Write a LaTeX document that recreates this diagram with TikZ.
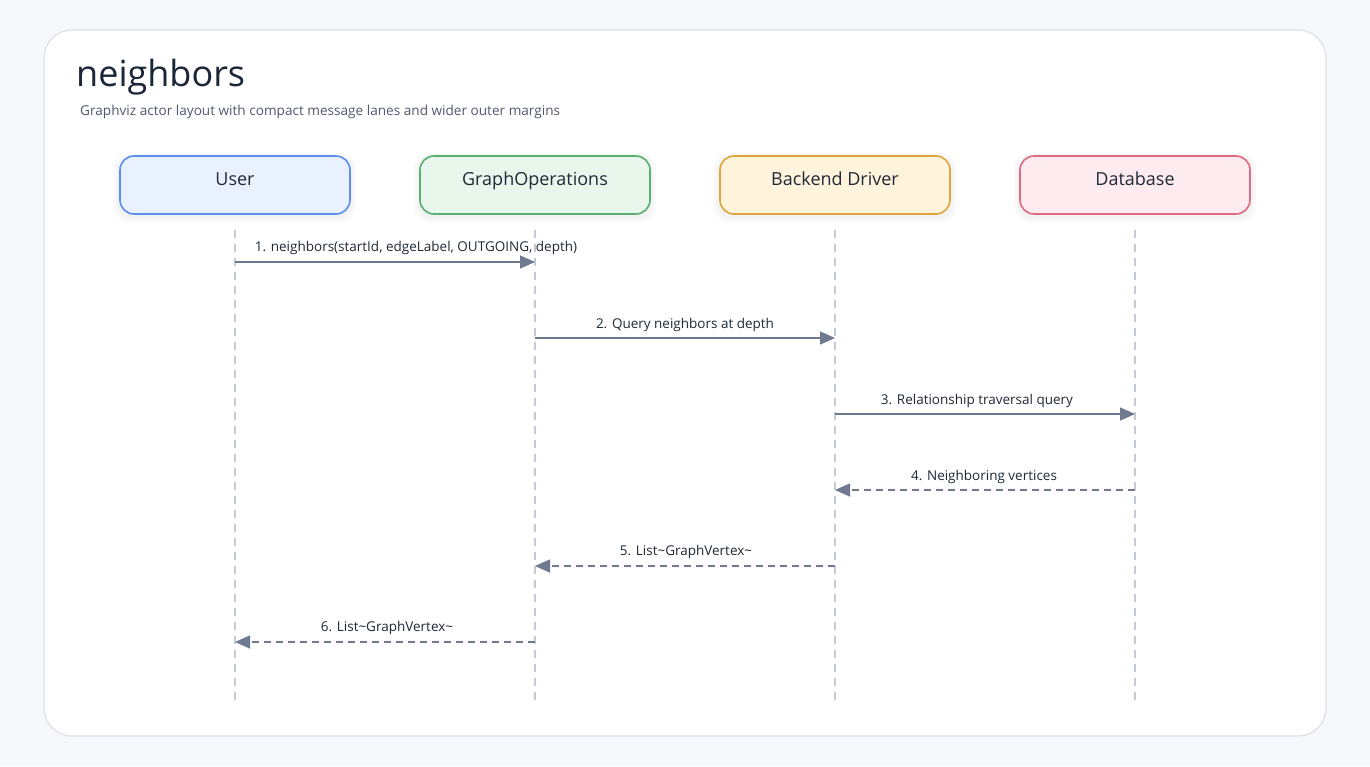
\documentclass[tikz,border=0pt]{standalone}
\usepackage{fontspec}
\setmainfont{Open Sans}
\usetikzlibrary{arrows.meta}
\definecolor{bgc}{HTML}{F7F8FB}
\definecolor{cardline}{HTML}{DCE0E8}
\definecolor{titlec}{HTML}{1B2638}
\definecolor{subc}{HTML}{4E5A6E}
\definecolor{lifec}{HTML}{C3C9D5}
\definecolor{msgc}{HTML}{6F7A90}
\definecolor{txtc}{HTML}{1F2937}
\definecolor{ufill}{HTML}{E8F1FD}\definecolor{uline}{HTML}{5B8DEF}
\definecolor{gfill}{HTML}{E8F6EC}\definecolor{gline}{HTML}{5AAE6E}
\definecolor{bfill}{HTML}{FFF3DC}\definecolor{bline}{HTML}{E0A43C}
\definecolor{dfill}{HTML}{FDEBEF}\definecolor{dline}{HTML}{E06A82}
\tikzset{
  actor/.style={draw=#1line, fill=#1fill, line width=1.6pt, rounded corners=14pt,
    minimum width=230pt, minimum height=58pt, inner sep=0pt,
    text height=10pt, text depth=10pt, text=txtc,
    font=\fontsize{18}{20}\selectfont},
  lifeline/.style={draw=lifec, line width=1.4pt, dash pattern=on 8pt off 6pt},
  msg/.style={draw=msgc, line width=1.5pt, -{Triangle[length=15pt,width=13pt]}},
  ret/.style={msg, dash pattern=on 7pt off 5pt},
  mlabel/.style={text=txtc, font=\fontsize{13.5}{15}\selectfont, inner sep=0pt},
}
\begin{document}
\begin{tikzpicture}[x=1pt,y=-1pt]
\useasboundingbox (0,0) rectangle (1370,766);
\fill[bgc] (0,0) rectangle (1370,766);
\draw[cardline, fill=white, line width=1.2pt, rounded corners=28pt] (44,30) rectangle (1326,736);
\node[anchor=base west, inner sep=0pt, text=titlec, font=\fontsize{36}{40}\selectfont] (title) at (76,86) {neighbors};
\node[anchor=base west, inner sep=0pt, text=subc, font=\fontsize{13.6}{15}\selectfont] (sub) at (80,115) {Graphviz actor layout with compact message lanes and wider outer margins};
% shadows
\foreach \cx in {235,535,835,1135}{
  \fill[black, opacity=0.025, rounded corners=16pt] (\cx-121,153) rectangle (\cx+121,222);
  \fill[black, opacity=0.025, rounded corners=15pt] (\cx-118,155) rectangle (\cx+118,219);
}
\node[actor=u] (user) at (235,185) {User};
\node[actor=g] (ops) at (535,185) {GraphOperations};
\node[actor=b] (drv) at (835,185) {Backend Driver};
\node[actor=d] (db) at (1135,185) {Database};
\foreach \n/\cx in {user/235,ops/535,drv/835,db/1135}{
  \coordinate (\n top) at (\cx,230);
  \coordinate (\n bot) at (\cx,700);
  \draw[lifeline] (\n top) -- (\n bot);
}
\foreach \n/\cx in {user/235,ops/535,drv/835,db/1135}{
  \foreach \k/\y in {1/262,2/338,3/414,4/490,5/566,6/642}{
    \coordinate (\n\k) at (\cx,\y);
  }
}
\draw[msg] (user1) -- (ops1);
\node[mlabel, anchor=base] (l1) at (416,251) {1. neighbors(startId, edgeLabel, OUTGOING, depth)};
\draw[msg] (ops2) -- (drv2);
\node[mlabel, anchor=base] (l2) at (685,328) {2. Query neighbors at depth};
\draw[msg] (drv3) -- (db3);
\node[mlabel, anchor=base] (l3) at (977,404) {3. Relationship traversal query};
\draw[ret] (db4) -- (drv4);
\node[mlabel, anchor=base] (l4) at (984,480) {4. Neighboring vertices};
\draw[ret] (drv5) -- (ops5);
\node[mlabel, anchor=base] (l5) at (686,555) {5. List\textasciitilde GraphVertex\textasciitilde};
\draw[ret] (ops6) -- (user6);
\node[mlabel, anchor=base] (l6) at (387,631) {6. List\textasciitilde GraphVertex\textasciitilde};
\end{tikzpicture}
\end{document}
